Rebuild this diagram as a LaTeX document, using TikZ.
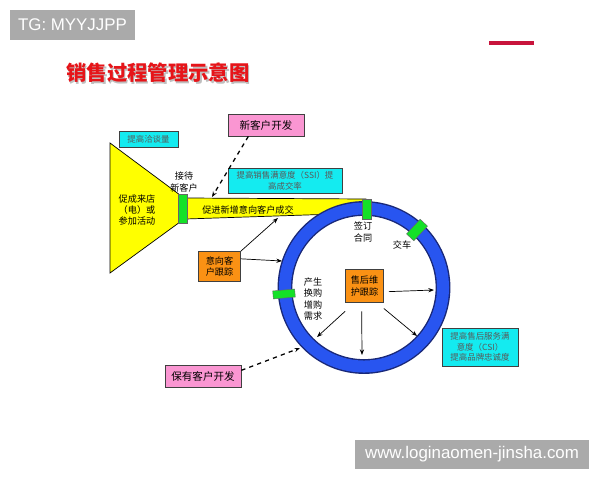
\documentclass[tikz,border=0pt]{standalone}
\usepackage{fontspec}
\setmainfont{Noto Sans CJK SC}
\newfontfamily\wmfont{Liberation Sans}
\usetikzlibrary{arrows.meta,calc}

\definecolor{funnelyellow}{RGB}{255,255,0}
\definecolor{markgreen}{RGB}{20,225,40}
\definecolor{ringblue}{RGB}{40,85,240}
\definecolor{ringedge}{RGB}{25,40,120}
\definecolor{boxcyan}{RGB}{20,235,240}
\definecolor{boxpink}{RGB}{250,150,210}
\definecolor{boxorange}{RGB}{250,145,20}
\definecolor{titlered}{RGB}{230,20,25}
\definecolor{wmgray}{RGB}{170,170,170}
\definecolor{linered}{RGB}{200,20,60}

\begin{document}
\begin{tikzpicture}[x=0.025cm, y=-0.025cm,
  box/.style={draw=black!75, line width=0.5pt, inner sep=0pt, align=center},
  cyanbox/.style={box, fill=boxcyan, text=black!65, font=\fontsize{6}{7.5}\selectfont},
  pinkbox/.style={box, fill=boxpink, font=\fontsize{7.5}{9}\selectfont},
  orangebox/.style={box, fill=boxorange, font=\fontsize{6.5}{8}\selectfont},
  greenmark/.style={draw=black!60, fill=markgreen, inner sep=0pt, line width=0.3pt},
  lbl/.style={align=center, font=\fontsize{6.5}{8}\selectfont},
  arr/.style={-{Stealth[length=4pt,width=3pt]}, line width=0.5pt},
  dasharr/.style={arr, dashed, line width=0.9pt},
  wm/.style={fill=wmgray, text=white, font=\wmfont\fontsize{12}{14}\selectfont, inner sep=0pt},
]
  \useasboundingbox (0,0) rectangle (600,480);

  % Watermarks
  \node[wm, minimum width=3.125cm, minimum height=0.75cm] (tg) at (72.5,25) {TG: MYYJJPP};
  \node[wm, minimum width=5.85cm, minimum height=0.725cm] (site) at (472,454.5) {www.loginaomen-jinsha.com};
  \fill[linered] (489,41) rectangle (534,44.5);

  % Title with shadow
  \node[font=\bfseries\fontsize{14.5}{16}\selectfont, text=black!25] at (159.5,74.5) {销售过程管理示意图};
  \node[font=\bfseries\fontsize{14.5}{16}\selectfont, text=titlered] (title) at (158,73) {销售过程管理示意图};

  % Funnel and bar
  \draw[fill=funnelyellow, line width=0.5pt] (110,143) -- (180,195) -- (180,222) -- (110,273) -- cycle;
  \draw[fill=funnelyellow, line width=0.5pt] (186,198) -- (366,199) -- (366,213) -- (186,219) -- cycle;
  \node[greenmark, minimum width=0.225cm, minimum height=0.725cm] (recv) at (182.5,208.5) {};

  % Ring
  \coordinate (ring) at (364,287.5);
  \draw[ringedge, line width=0.37cm] (ring) circle[radius=1.975cm];
  \draw[ringblue, line width=0.3cm] (ring) circle[radius=1.975cm];
  \node[greenmark, minimum width=0.225cm, minimum height=0.5cm] (sign) at (366.5,209) {};
  \node[greenmark, minimum width=0.5cm, minimum height=0.25cm, rotate=47] (deliv) at (417,230) {};
  \node[greenmark, minimum width=0.55cm, minimum height=0.2cm, rotate=5] (rebuy) at (284,294) {};

  % Labels
  \node[lbl] (recvlbl) at (184,182) {接待\\新客户};
  \node[lbl] (funnellbl) at (137,210) {促成来店\\（电）或\\参加活动};
  \node[lbl] (barlbl) at (248,210) {促进新增意向客户成交};
  \node[lbl] (signlbl) at (363,232) {签订\\合同};
  \node[lbl] (delivlbl) at (402,245) {交车};
  \node[lbl, font=\fontsize{6.5}{8}\selectfont] (rebuylbl) at (313,299) {产生\\换购\\增购\\需求};

  % Boxes
  \node[cyanbox, minimum width=1.475cm, minimum height=0.4cm] (talks) at (148.5,139) {提高洽谈量};
  \node[pinkbox, minimum width=1.9cm, minimum height=0.55cm] (newcust) at (266,125) {新客户开发};
  \node[cyanbox, minimum width=2.85cm, minimum height=0.625cm] (ssi) at (285,180.5) {提高销售满意度（SSI）提\\高成交率};
  \node[orangebox, minimum width=1.05cm, minimum height=0.75cm] (intent) at (219.5,266.5) {意向客\\户跟踪};
  \node[orangebox, minimum width=0.95cm, minimum height=0.825cm] (after) at (364.5,286) {售后维\\护跟踪};
  \node[pinkbox, minimum width=1.9cm, minimum height=0.55cm] (keep) at (203,376) {保有客户开发};
  \node[cyanbox, minimum width=1.9cm, minimum height=0.95cm] (csi) at (480,347) {提高售后服务满\\意度（CSI）\\提高品牌忠诚度};

  % Connector ends
  \coordinate (barin) at (212,197);
  \coordinate (barout) at (278,218);
  \coordinate (ringin) at (282,261);
  \coordinate (ringkeep) at (300,348);
  \coordinate (r1) at (434,290);
  \coordinate (r2) at (317,337);
  \coordinate (r3) at (362,355);
  \coordinate (r4) at (417,336);

  % Connectors
  \draw[dasharr] ($(newcust.south west)!0.27!(newcust.south east)$) -- (barin);
  \draw[arr] (intent.north east) -- (barout);
  \draw[arr] ($(intent.north east)!0.25!(intent.south east)$) -- (ringin);
  \draw[dasharr] ($(keep.north east)!0.25!(keep.south east)$) -- (ringkeep);
  \draw[arr] ([yshift=-4pt]after.east) ++(5,0) -- (r1);
  \draw[arr] ([yshift=-6pt]after.south west) -- (r2);
  \draw[arr] ([xshift=-2pt,yshift=-6pt]after.south) -- (r3);
  \draw[arr] ([yshift=-4pt]after.south east) -- (r4);
\end{tikzpicture}
\end{document}
